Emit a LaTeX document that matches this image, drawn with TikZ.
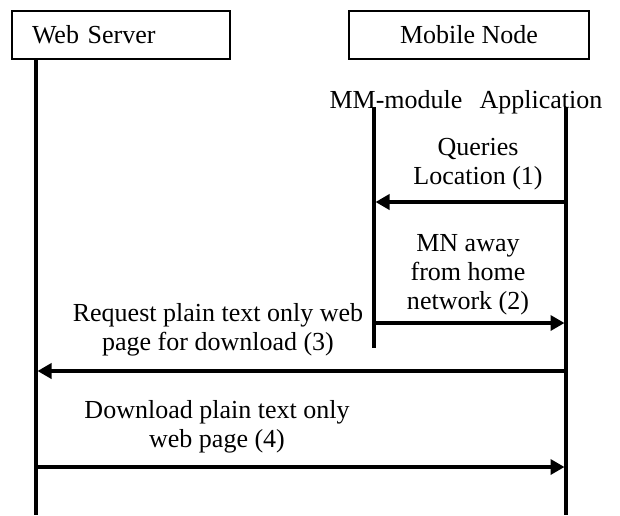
\documentclass[tikz,border=0pt]{standalone}
\usepackage{fontspec}
\setmainfont{Liberation Serif}
\usetikzlibrary{arrows.meta}
\begin{document}
\begin{tikzpicture}[x=1pt,y=-1pt,
  lbl/.style={font=\fontsize{26}{29}\selectfont, inner sep=0pt},
  box/.style={lbl, draw, line width=2pt, minimum height=48pt},
  msg/.style={lbl, align=center, anchor=south, text depth=0pt},
  life/.style={line width=3.5pt},
  arr/.style={line width=3.5pt, shorten >=1.5pt, -{Triangle[length=14pt,width=15pt]}}]
\useasboundingbox (0,0) rectangle (620,515);
% participant boxes
\node[box, text width=178pt, align=left, inner xsep=20pt] (ws) at (121,35) {Web Server};
\node[box, minimum width=240pt] (mn) at (469,35) {Mobile Node};
% sub-lifeline labels
\node[lbl, anchor=base] (mmlbl) at (396,108) {MM-module};
\node[lbl, anchor=base] (aplbl) at (541,108) {Application};
% lifeline ends
\coordinate (wsTop) at (36,59);
\coordinate (wsBot) at (36,515);
\coordinate (mmTop) at (374,107);
\coordinate (mmBot) at (374,348);
\coordinate (apTop) at (566,107);
\coordinate (apBot) at (566,515);
\draw[life] (wsTop) -- (wsBot);
\draw[life] (mmTop) -- (mmBot);
\draw[life] (apTop) -- (apBot);
% message points
\coordinate (ap1) at (566,202);
\coordinate (mm1) at (374,202);
\coordinate (mm2) at (374,323);
\coordinate (ap2) at (566,323);
\coordinate (ap3) at (566,371);
\coordinate (ws3) at (36,371);
\coordinate (ws4) at (36,467);
\coordinate (ap4) at (566,467);
\draw[arr] (ap1) -- (mm1);
\draw[arr] (mm2) -- (ap2);
\draw[arr] (ap3) -- (ws3);
\draw[arr] (ws4) -- (ap4);
% message labels
\node[msg] (l1) at (478,185) {Queries\\Location (1)};
\node[msg] (l2) at (468,310) {MN away\\from home\\network (2)};
\node[msg] (l3) at (218,351) {Request plain text only web\\page for download (3)};
\node[msg] (l4) at (217,448) {Download plain text only\\web page (4)};
\end{tikzpicture}
\end{document}
